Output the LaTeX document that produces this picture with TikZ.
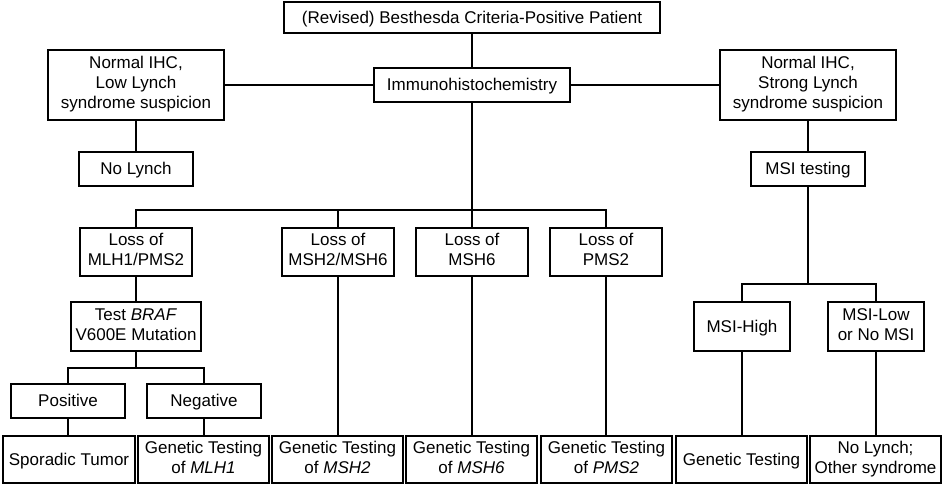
\documentclass[tikz,border=0pt]{standalone}
\usepackage{fontspec}
\setmainfont{Liberation Sans}
\newcommand{\bxstrut}{\vrule width 0pt height 15.5pt depth 4.5pt\relax}
\begin{document}
\begin{tikzpicture}[x=1pt,y=-1pt,
  box/.style={draw=black,line width=1.8pt,inner sep=0pt,align=center,font=\fontsize{17}{20}\selectfont,
    execute at begin node=\bxstrut, execute at end node=\bxstrut},
  conn/.style={draw=black,line width=1.8pt}]
\useasboundingbox (0,0) rectangle (942,485);
% top level
\node[box,minimum width=376pt,minimum height=31pt] (top) at (472,17.5) {(Revised) Besthesda Criteria-Positive Patient};
\node[box,minimum width=196pt,minimum height=34pt] (imm) at (472,85) {Immunohistochemistry};
\node[box,minimum width=176pt,minimum height=70pt] (low) at (136,85) {Normal IHC,\\Low Lynch\\syndrome suspicion};
\node[box,minimum width=176pt,minimum height=70pt] (strong) at (808,85) {Normal IHC,\\Strong Lynch\\syndrome suspicion};
\node[box,minimum width=114pt,minimum height=34pt] (nolynch) at (136,169) {No Lynch};
\node[box,minimum width=114pt,minimum height=34pt] (msi) at (808,169) {MSI testing};
% loss boxes
\node[box,minimum width=112pt,minimum height=48pt] (lossA) at (136,252) {Loss of\\MLH1/PMS2};
\node[box,minimum width=112pt,minimum height=48pt] (lossB) at (338,252) {Loss of\\MSH2/MSH6};
\node[box,minimum width=112pt,minimum height=48pt] (lossC) at (472,252) {Loss of\\MSH6};
\node[box,minimum width=112pt,minimum height=48pt] (lossD) at (606,252) {Loss of\\PMS2};
% second level
\node[box,minimum width=130pt,minimum height=49pt] (braf) at (136,326.5) {Test \textit{BRAF}\\V600E Mutation};
\node[box,minimum width=96pt,minimum height=49pt] (msihigh) at (742,326.5) {MSI-High};
\node[box,minimum width=96pt,minimum height=49pt] (msilow) at (876,326.5) {MSI-Low\\or No MSI};
\node[box,minimum width=114pt,minimum height=34pt] (pos) at (68,401) {Positive};
\node[box,minimum width=114pt,minimum height=34pt] (neg) at (204,401) {Negative};
% bottom row
\node[box,minimum width=132pt,minimum height=47pt] (spor) at (69,459.5) {Sporadic Tumor};
\node[box,minimum width=131pt,minimum height=47pt] (gmlh) at (203.5,459.5) {Genetic Testing\\of \textit{MLH1}};
\node[box,minimum width=131pt,minimum height=47pt] (gmsh2) at (337.5,459.5) {Genetic Testing\\of \textit{MSH2}};
\node[box,minimum width=131pt,minimum height=47pt] (gmsh6) at (471.5,459.5) {Genetic Testing\\of \textit{MSH6}};
\node[box,minimum width=131pt,minimum height=47pt] (gpms) at (606.5,459.5) {Genetic Testing\\of \textit{PMS2}};
\node[box,minimum width=131pt,minimum height=47pt] (gt) at (741.5,459.5) {Genetic Testing};
\node[box,minimum width=131pt,minimum height=47pt] (other) at (875.5,459.5) {No Lynch;\\Other syndrome};
% bus coordinates
\coordinate (bus) at (472,210);
\coordinate (bbus) at (136,368);
\coordinate (mbus) at (808,284);
% connectors
\draw[conn] (top.south) -- (imm.north);
\draw[conn] (low.east) -- (imm.west);
\draw[conn] (imm.east) -- (strong.west);
\draw[conn] (low.south) -- (nolynch.north);
\draw[conn] (strong.south) -- (msi.north);
\draw[conn] (imm.south) -- (lossC.north);
\draw[conn] (lossA.north) |- (bus) -| (lossD.north);
\draw[conn] (lossB.north) -- (lossB.north |- bus);
\draw[conn] (lossA.south) -- (braf.north);
\draw[conn] (braf.south) -- (bbus);
\draw[conn] (pos.north) |- (bbus) -| (neg.north);
\draw[conn] (pos.south) -- (pos.south |- spor.north);
\draw[conn] (neg.south) -- (neg.south |- gmlh.north);
\draw[conn] (lossB.south) -- (lossB.south |- gmsh2.north);
\draw[conn] (lossC.south) -- (lossC.south |- gmsh6.north);
\draw[conn] (lossD.south) -- (lossD.south |- gpms.north);
\draw[conn] (msi.south) -- (mbus);
\draw[conn] (msihigh.north) |- (mbus) -| (msilow.north);
\draw[conn] (msihigh.south) -- (msihigh.south |- gt.north);
\draw[conn] (msilow.south) -- (msilow.south |- other.north);
\end{tikzpicture}
\end{document}
